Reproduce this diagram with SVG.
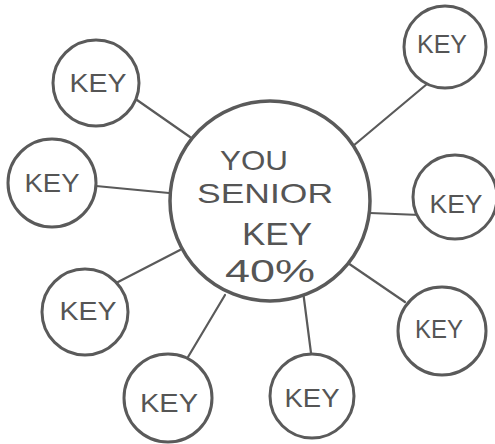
<svg xmlns="http://www.w3.org/2000/svg" width="495" height="444" viewBox="0 0 495 444">
<style>
.node circle{fill:#fff;stroke:#5a5a5a;stroke-width:3}
.lbl{font-family:"Liberation Sans",Arial,sans-serif;fill:#555;text-anchor:middle;font-size:26px}
.big{font-size:31px}
.mid{font-size:28px}
#connectors line{stroke:#5a5a5a;stroke-width:2.2;stroke-linecap:round}
</style>
<rect width="495" height="444" fill="#fff"/>
<g id="connectors">
<line x1="137" y1="100" x2="190" y2="137"/>
<line x1="96" y1="186" x2="169" y2="193"/>
<line x1="427" y1="84" x2="353" y2="146"/>
<line x1="370" y1="213" x2="420" y2="215"/>
<line x1="118" y1="282" x2="180" y2="250"/>
<line x1="188" y1="357" x2="225" y2="295"/>
<line x1="345" y1="261" x2="405" y2="302"/>
<line x1="303" y1="291" x2="311" y2="353"/>
</g>
<g id="center" class="node">
<circle cx="270" cy="201" r="100" style="stroke-width:3.5"/>
<text class="lbl mid" x="254" y="170" textLength="68" lengthAdjust="spacingAndGlyphs">YOU</text>
<text class="lbl mid" x="265" y="203" textLength="136" lengthAdjust="spacingAndGlyphs">SENIOR</text>
<text class="lbl big" x="277" y="245" textLength="70" lengthAdjust="spacingAndGlyphs">KEY</text>
<text class="lbl big" x="270" y="282" textLength="90" lengthAdjust="spacingAndGlyphs">40%</text>
</g>
<g id="key1" class="node"><circle cx="96" cy="83" r="43"/><text class="lbl" x="98" y="92" textLength="57" lengthAdjust="spacingAndGlyphs">KEY</text></g>
<g id="key2" class="node"><circle cx="52" cy="183" r="44"/><text class="lbl" x="52" y="192" textLength="55" lengthAdjust="spacingAndGlyphs">KEY</text></g>
<g id="key3" class="node"><circle cx="445" cy="47" r="41"/><text class="lbl" x="442" y="53" textLength="50" lengthAdjust="spacingAndGlyphs">KEY</text></g>
<g id="key4" class="node"><circle cx="455" cy="197" r="42"/><text class="lbl" x="456" y="213" textLength="53" lengthAdjust="spacingAndGlyphs">KEY</text></g>
<g id="key5" class="node"><circle cx="85" cy="312" r="43"/><text class="lbl" x="88" y="320" textLength="57" lengthAdjust="spacingAndGlyphs">KEY</text></g>
<g id="key6" class="node"><circle cx="168" cy="398" r="44"/><text class="lbl" x="169" y="412" textLength="58" lengthAdjust="spacingAndGlyphs">KEY</text></g>
<g id="key7" class="node"><circle cx="442" cy="331" r="44"/><text class="lbl" x="439" y="338" textLength="48" lengthAdjust="spacingAndGlyphs">KEY</text></g>
<g id="key8" class="node"><circle cx="312" cy="396" r="42"/><text class="lbl" x="312" y="407" textLength="55" lengthAdjust="spacingAndGlyphs">KEY</text></g>
</svg>
